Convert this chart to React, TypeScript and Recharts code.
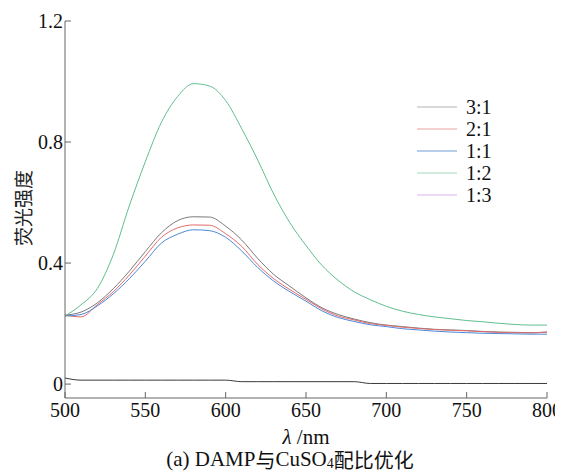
import React from 'react'
import { LineChart, Line, XAxis, YAxis, Legend } from 'recharts'

// wavelength, nm
const wavelengths = [
  500, 510, 520, 530, 540, 550, 560, 570, 580, 590, 600,
  610, 620, 630, 640, 650, 660, 670, 680, 690, 700,
  710, 720, 730, 740, 750, 760, 770, 780, 790, 800,
]

const ratio31 = [
  0.228, 0.238, 0.268, 0.315, 0.373, 0.438, 0.5, 0.54, 0.553, 0.552, 0.522,
  0.476, 0.415, 0.362, 0.323, 0.285, 0.252, 0.23, 0.215, 0.203, 0.195,
  0.19, 0.185, 0.181, 0.179, 0.177, 0.174, 0.172, 0.171, 0.17, 0.172,
]
const ratio21 = [
  0.228, 0.222, 0.262, 0.305, 0.36, 0.423, 0.485, 0.516, 0.526, 0.525, 0.497,
  0.455, 0.395, 0.348, 0.312, 0.28, 0.248, 0.225, 0.212, 0.2, 0.194,
  0.188, 0.184, 0.18, 0.178, 0.176, 0.173, 0.171, 0.17, 0.169, 0.172,
]
const ratio11 = [
  0.225, 0.23, 0.258, 0.298, 0.348, 0.406, 0.466, 0.495, 0.51, 0.507, 0.485,
  0.44, 0.385, 0.34, 0.305, 0.274, 0.242, 0.22, 0.207, 0.196, 0.19,
  0.183, 0.179, 0.175, 0.172, 0.17, 0.168, 0.167, 0.166, 0.165, 0.165,
]
const ratio12 = [
  0.225, 0.262, 0.315, 0.427, 0.589, 0.735, 0.865, 0.95, 0.993, 0.985, 0.937,
  0.844, 0.74, 0.627, 0.533, 0.458, 0.392, 0.343, 0.305, 0.279, 0.257,
  0.241, 0.23, 0.222, 0.216, 0.21, 0.206, 0.201, 0.197, 0.195, 0.195,
]
const ratio13 = [
  0.02, 0.013, 0.013, 0.013, 0.013, 0.013, 0.013, 0.013, 0.013, 0.013, 0.013,
  0.008, 0.008, 0.008, 0.008, 0.008, 0.008, 0.008, 0.008, 0.002, 0.002,
  0.002, 0.002, 0.002, 0.002, 0.002, 0.002, 0.002, 0.002, 0.002, 0.002,
]

const xTicks = [500, 550, 600, 650, 700, 750, 800]
const yTicks = [0, 0.4, 0.8, 1.2]

const seriesNames = ['3:1', '2:1', '1:1', '1:2', '1:3']
const seriesKeys = ['r31', 'r21', 'r11', 'r12', 'r13']
const lineColors = ['#7a7a7a', '#e26a6c', '#4d88d8', '#5fbf8d', '#3a3a3a']
const legendColors = ['#b4b4b4', '#e9a2a2', '#6f9bd8', '#a3d9bb', '#d9b3ef']

const data = wavelengths.map((wl, i) => ({
  wl,
  r31: ratio31[i],
  r21: ratio21[i],
  r11: ratio11[i],
  r12: ratio12[i],
  r13: ratio13[i],
}))

const font = 'Liberation Serif, Times New Roman, DejaVu Serif, serif'
const cjk = 'Noto Sans CJK SC, sans-serif'
const axisColor = '#666'

const YTick = (props: any) => {
  const { x, y, payload } = props
  return (
    <g>
      <line x1={x} x2={x + 6} y1={y} y2={y} stroke={axisColor} />
      <text x={x - 2} y={y} textAnchor="end" dominantBaseline="central"
        fontFamily={font} fontSize={20} fill="#111">
        {payload.value === 0 ? '0' : payload.value.toFixed(1)}
      </text>
    </g>
  )
}

const XTick = (props: any) => {
  const { x, y, payload } = props
  return (
    <g>
      <line x1={x} x2={x} y1={y} y2={y - 6} stroke={axisColor} />
      <text x={x} y={y + 12} textAnchor="middle" dominantBaseline="central"
        fontFamily={font} fontSize={20} fill="#111">
        {payload.value}
      </text>
    </g>
  )
}

const LegendBox = () => (
  <div style={{ fontFamily: font, fontSize: 20, color: '#111' }}>
    {seriesNames.map((name, i) => (
      <div key={name} style={{ height: 22, display: 'flex', alignItems: 'center' }}>
        <svg width={49} height={22}>
          <line x1={0} x2={40} y1={11} y2={11} stroke={legendColors[i]} strokeWidth={1.2} />
        </svg>
        <span style={{ lineHeight: '22px' }}>{name}</span>
      </div>
    ))}
  </div>
)

export default function App() {
  return (
    <div style={{ position: 'relative', width: 555, height: 466 }}>
      <LineChart width={555} height={466} data={data}
        margin={{ top: 13, right: 16, bottom: 0, left: 0 }}>
        <XAxis dataKey="wl" type="number" domain={[500, 800]} ticks={xTicks}
          height={76} tickSize={0} tickMargin={0} tickLine={false}
          stroke={axisColor} tick={<XTick />} interval={0} />
        <YAxis type="number" domain={[-0.046, 1.2]} ticks={yTicks}
          width={57} tickSize={0} tickMargin={0} tickLine={false}
          stroke={axisColor} tick={<YTick />} interval={0} allowDataOverflow />
        <Legend content={<LegendBox />} layout="vertical" align="center" verticalAlign="middle"
          wrapperStyle={{ position: 'absolute', left: 409, top: 88, width: 'auto', height: 'auto' }} />
        {seriesKeys.map((k, i) => (
          <Line key={k} dataKey={k} name={seriesNames[i]} type="monotone"
            stroke={lineColors[i]} strokeWidth={1} dot={false}
            isAnimationActive={false} />
        ))}
      </LineChart>
      <svg width={555} height={466} style={{ position: 'absolute', left: 0, top: 0, pointerEvents: 'none' }}>
        <text transform="translate(14,200) rotate(-90)" textAnchor="middle"
          dominantBaseline="central" fontFamily={cjk} fontSize={19} fill="#222">
          荧光强度
        </text>
        <text x={298} y={429} textAnchor="middle" dominantBaseline="central"
          fontFamily={font} fontSize={21} fill="#111">
          <tspan fontStyle="italic">λ</tspan> /nm
        </text>
        <text x={282} y={451} textAnchor="middle" dominantBaseline="central"
          fontFamily={font} fontSize={21} fill="#111">
          (a)  DAMP<tspan fontFamily={cjk} fontSize={20}>与</tspan>CuSO<tspan fontSize={14} dy={4}>4</tspan>
          <tspan dy={-4} fontFamily={cjk} fontSize={20}>配比优化</tspan>
        </text>
      </svg>
    </div>
  )
}
